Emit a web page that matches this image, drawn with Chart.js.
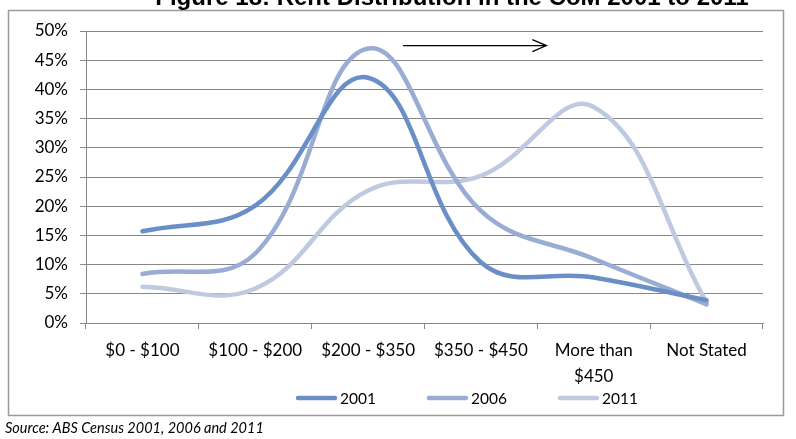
<!DOCTYPE html>
<html>
<head>
<meta charset="utf-8">
<script src="https://cdn.jsdelivr.net/npm/chart.js@4.4.1/dist/chart.umd.min.js"></script>
<style>
  html, body { margin: 0; padding: 0; background: #ffffff; }
  #wrap { position: relative; width: 796px; height: 439px; }
</style>
</head>
<body>
<div id="wrap"><canvas id="c" width="796" height="439"></canvas></div>
<script>
// Rent bands and share of rented dwellings (%) per census year
const categories = ['$0 - $100', '$100 - $200', '$200 - $350', '$350 - $450', ['More than', '$450'], 'Not Stated'];
const rent2001 = [15.7, 20.1, 42.0, 10.4, 7.8, 3.9];
const rent2006 = [8.4, 11.9, 47.0, 19.2, 11.0, 3.2];
const rent2011 = [6.2, 5.9, 22.7, 25.2, 37.0, 3.5];
const yTickValues = [0, 5, 10, 15, 20, 25, 30, 35, 40, 45, 50];
const seriesNames = ['2001', '2006', '2011'];
const seriesColors = ['#6a8ec6', '#98acd4', '#bfcae1'];

const titleText = 'Figure 18: Rent Distribution in the CoM 2001 to 2011';
const sourceText = 'Source: ABS Census 2001, 2006 and 2011';
// trend arrow drawn in data space: from/to category position at a given percentage
const arrowFrom = 2.31, arrowTo = 3.58, arrowLevel = 47.5;

const fontFamily = 'Lato, "Open Sans", sans-serif';
const labelFont = { family: fontFamily, size: 17, lineHeight: 1.55 };
const gridColor = '#888888';

const decorations = {
  id: 'decorations',
  afterDraw(chart) {
    const ctx = chart.ctx;
    const xs = chart.scales.x, ys = chart.scales.y;
    ctx.save();

    // chart frame
    ctx.strokeStyle = '#9a9a9a';
    ctx.lineWidth = 1.5;
    ctx.strokeRect(8.5, 10.5, 775, 405);

    // title (runs off the top edge)
    ctx.fillStyle = '#000';
    ctx.font = 'bold 24px "Liberation Sans", Arial, sans-serif';
    ctx.textAlign = 'center';
    ctx.textBaseline = 'alphabetic';
    ctx.fillText(titleText, 452, 5);

    // arrow
    const ax0 = xs.getPixelForValue(arrowFrom);
    const ax1 = xs.getPixelForValue(arrowTo);
    const ay = ys.getPixelForValue(arrowLevel);
    ctx.strokeStyle = '#000';
    ctx.lineWidth = 1.3;
    ctx.beginPath();
    ctx.moveTo(ax0, ay);
    ctx.lineTo(ax1, ay);
    ctx.moveTo(ax1 - 14, ay - 6);
    ctx.lineTo(ax1, ay);
    ctx.lineTo(ax1 - 14, ay + 6);
    ctx.stroke();

    // legend
    ctx.font = '15.5px ' + fontFamily;
    ctx.textAlign = 'left';
    ctx.textBaseline = 'middle';
    let lx = 296;
    const ly = 398;
    chart.data.datasets.forEach((ds) => {
      ctx.strokeStyle = ds.borderColor;
      ctx.lineWidth = 4.5;
      ctx.lineCap = 'round';
      ctx.beginPath();
      ctx.moveTo(lx + 2, ly);
      ctx.lineTo(lx + 39, ly);
      ctx.stroke();
      ctx.fillStyle = '#000';
      ctx.fillText(ds.label, lx + 44, ly + 1);
      lx += 44 + ctx.measureText(ds.label).width + 51;
    });

    // source note
    ctx.font = 'italic 14.5px ' + fontFamily;
    ctx.textAlign = 'left';
    ctx.fillText(sourceText, 5, 428);
    ctx.restore();
  }
};

new Chart(document.getElementById('c'), {
  type: 'line',
  data: {
    labels: categories,
    datasets: [rent2001, rent2006, rent2011].map((vals, i) => ({
      label: seriesNames[i],
      data: vals,
      borderColor: seriesColors[i],
      backgroundColor: seriesColors[i],
      borderWidth: 4.5,
      pointRadius: 0,
      tension: 0.4,
      borderCapStyle: 'round',
      fill: false
    }))
  },
  options: {
    responsive: false,
    animation: false,
    devicePixelRatio: 1,
    layout: { padding: { top: 31, right: 33, left: 0, bottom: 0 } },
    plugins: { legend: { display: false }, tooltip: { enabled: false }, title: { display: false } },
    scales: {
      x: {
        type: 'category',
        offset: true,
        grid: { offset: true, drawOnChartArea: false, drawTicks: true, tickLength: 6, color: gridColor },
        border: { color: gridColor, width: 1 },
        ticks: { font: labelFont, color: '#000', padding: 8, maxRotation: 0, autoSkip: false },
        afterFit(scale) { scale.height = 116; }
      },
      y: {
        min: 0,
        max: 50,
        afterBuildTicks(scale) { scale.ticks = yTickValues.map(v => ({ value: v })); },
        ticks: { font: { family: fontFamily, size: 17 }, color: '#000', padding: 12, callback: v => v + '%' },
        grid: { color: gridColor, tickLength: 6, lineWidth: 1 },
        border: { color: gridColor, width: 1 },
        afterFit(scale) { scale.width = 86; }
      }
    }
  },
  plugins: [decorations]
});
</script>
</body>
</html>
